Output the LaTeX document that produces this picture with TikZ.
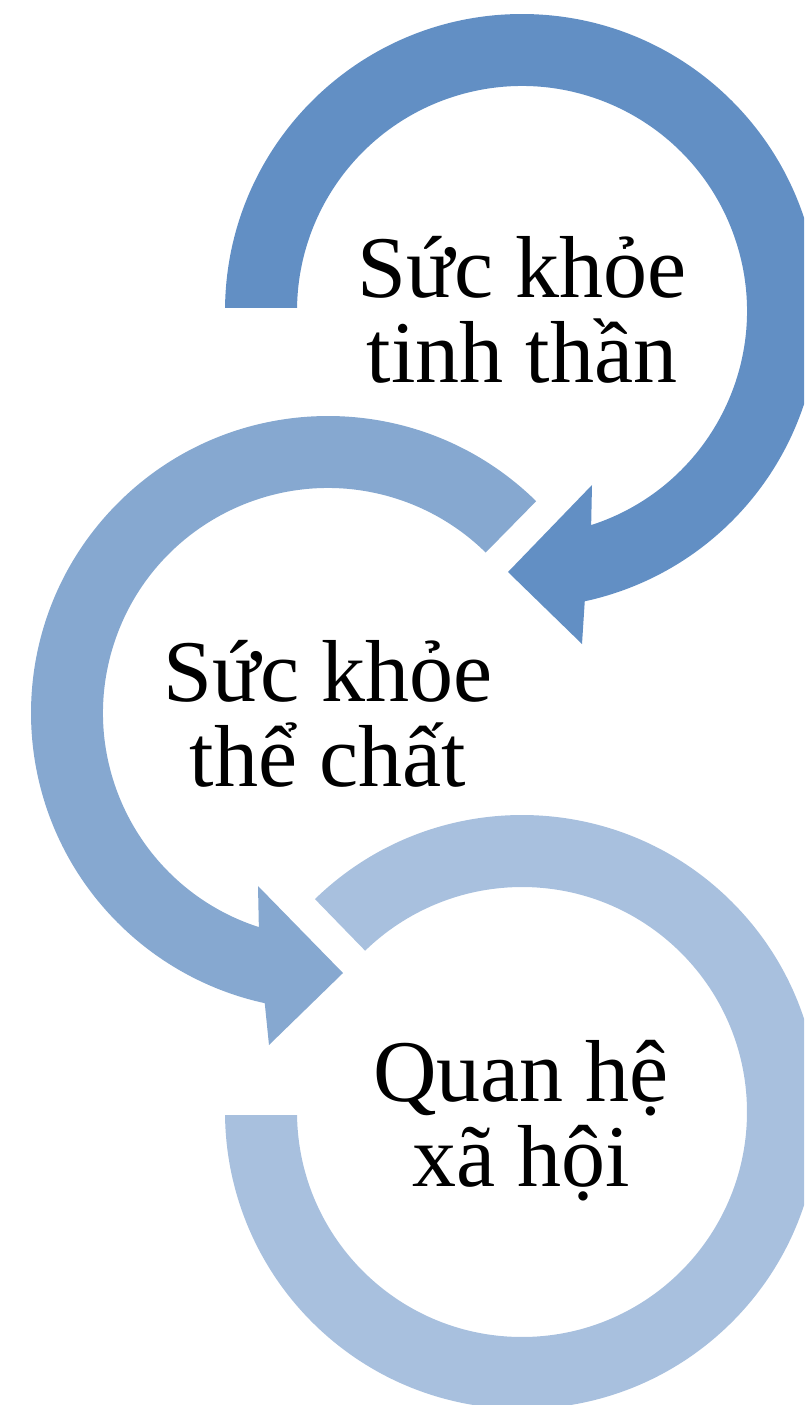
\documentclass[tikz,border=0pt]{standalone}
\usepackage{fontspec}
\setmainfont{Liberation Serif}
\definecolor{ringA}{RGB}{98,143,196}
\definecolor{ringB}{RGB}{134,168,208}
\definecolor{ringC}{RGB}{168,192,222}
\begin{document}
\begin{tikzpicture}[x=1pt,y=-1pt,
  label/.style={inner sep=0pt,anchor=base,font=\fontsize{88}{85}\selectfont}]
\useasboundingbox (0,0) rectangle (804,1405);
\clip (0,0) rectangle (804,1405);
\coordinate (c1) at (522,311);
\coordinate (c2) at (328,713);
\coordinate (c3) at (522,1112);
% first ring: clockwise from the left, head at the bottom
\begin{scope}[shift={(c1)}]
  \fill[ringA] (-179.4:297) arc[start angle=-179.4,end angle=77.8,radius=297]
    -- (60,333) -- (-14,261) -- (70,174)
    -- (72.1:225) arc[start angle=72.1,end angle=-179.2,radius=225] -- cycle;
\end{scope}
% second ring: anticlockwise from the upper right, head at the bottom
\begin{scope}[shift={(c2)}]
  \fill[ringB] (-45.5:297) arc[start angle=-45.5,end angle=-257.7,radius=297]
    -- (-59,332) -- (15,260) -- (-70,173)
    -- (-252.1:225) arc[start angle=-252.1,end angle=-45.5,radius=225] -- cycle;
\end{scope}
% third ring: clockwise from the upper left, flat end on the left
\begin{scope}[shift={(c3)}]
  \fill[ringC] (-134.2:297) arc[start angle=-134.2,end angle=179.4,radius=297]
    -- (179.2:225) arc[start angle=179.2,end angle=-134.2,radius=225] -- cycle;
\end{scope}
\node[label] (t1a) at (522,297) {Sức khỏe};
\node[label] (t1b) at (522,382) {tinh thần};
\node[label] (t2a) at (328,701) {Sức khỏe};
\node[label] (t2b) at (328,786) {thể chất};
\node[label] (t3a) at (521,1101) {Quan hệ};
\node[label] (t3b) at (521,1186) {xã hội};
\end{tikzpicture}
\end{document}
